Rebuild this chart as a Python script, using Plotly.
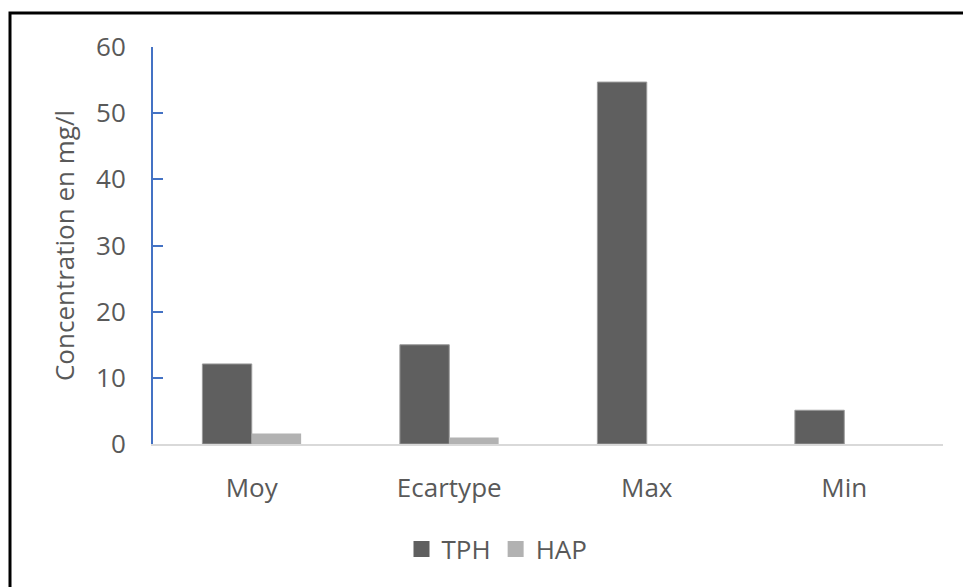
import plotly.graph_objects as go

# Summary statistics of concentrations (mg/l)
categories = ["Moy", "Ecartype", "Max", "Min"]
tph_values = [12.1, 15.0, 54.7, 5.1]
hap_values = [1.6, 1.0, 0.0, 0.0]
y_ticks = [0, 10, 20, 30, 40, 50, 60]

W, H = 963, 587
L, R, T, B = 153, 20, 47, 143
plot_w = W - L - R
plot_h = H - T - B

TEXT = "#595959"
FONT = "Open Sans, Segoe UI, sans-serif"
TPH_COLOR = "#5f5f5f"
HAP_COLOR = "#b2b2b2"

fig = go.Figure()
fig.add_trace(go.Bar(
    x=categories, y=tph_values, name="TPH", showlegend=False,
    marker=dict(color=TPH_COLOR, line=dict(color="#9a9a9a", width=1)),
))
fig.add_trace(go.Bar(
    x=categories, y=hap_values, name="HAP", showlegend=False,
    marker=dict(color=HAP_COLOR, line=dict(width=0)),
))

# Legend entries with larger square swatches
for name, color in [("TPH", TPH_COLOR), ("HAP", HAP_COLOR)]:
    fig.add_trace(go.Scatter(
        x=[None], y=[None], mode="markers", name=name,
        marker=dict(symbol="square", size=18, color=color),
        hoverinfo="skip",
    ))


def px_x(px):
    return (px - L) / plot_w


def px_y(py):
    return (H - B - py) / plot_h


# Black frame around the chart (left and top edges visible)
x0, y0 = px_x(10), px_y(13)
x1, ybot = px_x(966), px_y(592)
frame = f"M {x0},{ybot} L {x0},{y0} L {x1},{y0}"

fig.update_layout(
    width=W, height=H,
    margin=dict(l=L, r=R, t=T, b=B),
    paper_bgcolor="white",
    plot_bgcolor="white",
    font=dict(family=FONT, color=TEXT, size=26),
    barmode="group",
    bargap=0.5,
    bargroupgap=0,
    showlegend=True,
    legend=dict(
        orientation="h",
        x=px_x(497), y=px_y(549),
        xanchor="center", yanchor="middle",
        font=dict(size=26, color=TEXT),
        itemwidth=30,
        traceorder="normal",
    ),
    shapes=[dict(
        type="path", path=frame, xref="paper", yref="paper",
        line=dict(color="black", width=3), layer="above",
    )],
    xaxis=dict(
        showline=True, linecolor="#d9d9d9", linewidth=2,
        ticks="", showgrid=False, zeroline=False,
        tickfont=dict(size=26, color=TEXT),
        ticklabelstandoff=20,
    ),
    yaxis=dict(
        range=[0, 60], tickvals=y_ticks,
        showline=True, linecolor="#4472c4", linewidth=2,
        ticks="inside", ticklen=10, tickwidth=2, tickcolor="#4472c4",
        showgrid=False, zeroline=False,
        tickfont=dict(size=26, color=TEXT),
        ticklabelstandoff=20,
        title=dict(text="Concentration en mg/l", font=dict(size=26, color=TEXT), standoff=14),
    ),
)

fig.write_html("out.html")
